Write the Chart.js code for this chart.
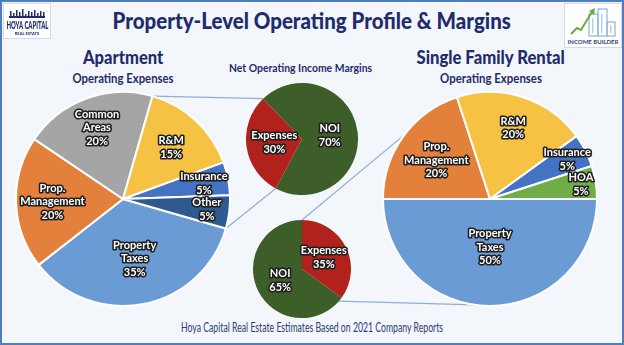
<!DOCTYPE html>
<html>
<head>
<meta charset="utf-8">
<script src="https://cdn.jsdelivr.net/npm/chart.js@4.4.1/dist/chart.umd.min.js"></script>
<style>
  html, body { margin: 0; padding: 0; }
  body {
    width: 624px; height: 345px; position: relative; overflow: hidden;
    background: #f3f6fb; font-family: Lato, "Open Sans", sans-serif;
  }
  #frame {
    position: absolute; left: 0; top: 0; width: 620px; height: 341px;
    border: 2px solid #4f7dc0; pointer-events: none; z-index: 5;
  }
  .txt {
    position: absolute; white-space: nowrap; color: #1f2c6c; font-weight: 700;
    transform-origin: center top;
  }
  canvas.pie { position: absolute; z-index: 2; }
  #lines { position: absolute; left: 0; top: 0; z-index: 1; }
  .logo { position: absolute; background: #fff; border: 1px solid #d5dbe6; z-index: 3; }
</style>
</head>
<body>
<div id="frame"></div>
<canvas id="lines" width="624" height="345"></canvas>

<div class="logo" style="left:3px;top:3px;width:46px;height:34px;">
  <canvas id="hoyaSky" width="46" height="12" style="position:absolute;left:0;top:3px"></canvas>
  <div class="txt fit" data-w="42" style="left:0;top:13px;width:46px;text-align:center;font-size:12px;font-weight:900;color:#1f2c6c;">HOYA CAPITAL</div>
  <div class="txt" style="left:0;top:27px;width:46px;text-align:center;font-size:4px;color:#1f2c6c;">REAL ESTATE</div>
</div>
<div class="logo" style="left:564px;top:3px;width:56px;height:43px;">
  <canvas id="ibIcon" width="56" height="32" style="position:absolute;left:0;top:2px"></canvas>
  <div class="txt" style="left:0;top:34px;width:56px;text-align:center;font-size:6px;color:#2c3f7a;">INCOME BUILDER</div>
</div>

<div class="txt fit" data-w="398" style="left:0;top:6px;width:624px;text-align:center;font-size:23px;font-weight:900;">Property-Level Operating Profile &amp; Margins</div>
<div class="txt fit" data-w="80" style="left:23px;top:45px;width:200px;text-align:center;font-size:19px;font-weight:900;">Apartment</div>
<div class="txt fit" data-w="101" style="left:23px;top:70px;width:200px;text-align:center;font-size:13px;">Operating Expenses</div>
<div class="txt fit" data-w="143" style="left:201px;top:60px;width:200px;text-align:center;font-size:12px;">Net Operating Income Margins</div>
<div class="txt fit" data-w="148" style="left:391px;top:45px;width:200px;text-align:center;font-size:19px;font-weight:900;">Single Family Rental</div>
<div class="txt fit" data-w="102" style="left:391px;top:70px;width:200px;text-align:center;font-size:13px;">Operating Expenses</div>
<div class="txt fit" data-w="262" style="left:0;top:318px;width:624px;text-align:center;font-size:14px;font-weight:400;color:#2b3b78;">Hoya Capital Real Estate Estimates Based on 2021 Company Reports</div>

<canvas class="pie" id="aptPie" width="216" height="216" style="left:15px;top:91px"></canvas>
<canvas class="pie" id="sfrPie" width="216" height="216" style="left:382px;top:91px"></canvas>
<canvas class="pie" id="aptMarginPie" width="112" height="112" style="left:246px;top:83px"></canvas>
<canvas class="pie" id="sfrMarginPie" width="98" height="98" style="left:253px;top:220px"></canvas>

<script>
// === Data ===
const aptCategories = ['Property\nTaxes', 'Prop.\nManagement', 'Common\nAreas', 'R&M', 'Insurance', 'Other'];
const aptShares = [35, 20, 20, 15, 5, 5];

const sfrCategories = ['Property\nTaxes', 'Prop.\nManagement', 'R&M', 'Insurance', 'HOA'];
const sfrShares = [50, 20, 20, 5, 5];

const marginCategories = ['NOI', 'Expenses'];
const aptMargins = [70, 30];
const sfrMargins = [65, 35];

// === Colours ===
const aptColors = ['#6a9bd4', '#e2803c', '#a5a5a5', '#f6c243', '#4472c4', '#2c5a91'];
const sfrColors = ['#6a9bd4', '#e2803c', '#f6c243', '#4472c4', '#70ad47'];
const marginColors = ['#3e5e29', '#b2221c'];

// Squeeze headings into the condensed widths of the original
document.querySelectorAll('.fit').forEach(function (el) {
    const inner = document.createElement('span');
    inner.textContent = el.textContent;
    el.textContent = '';
    el.appendChild(inner);
    inner.style.display = 'inline-block';
    const s = parseFloat(el.dataset.w) / inner.offsetWidth;
    inner.style.transform = 'scaleX(' + s.toFixed(3) + ')';
    // keep it centred once scaled
    inner.style.marginLeft = inner.style.marginRight = (-(inner.offsetWidth - el.dataset.w) / 2) + 'px';
});

// White labels with dark outline inside each slice
function sliceLabels(radii, fontSize, lineH) {
    return {
        id: 'sliceLabels',
        afterDatasetsDraw(chart) {
            const ctx = chart.ctx;
            const ds = chart.data.datasets[0];
            chart.getDatasetMeta(0).data.forEach(function (arc, i) {
                const mid = (arc.startAngle + arc.endAngle) / 2;
                const r = arc.outerRadius * radii[i];
                const x = arc.x + Math.cos(mid) * r;
                const y = arc.y + Math.sin(mid) * r;
                const lines = chart.data.labels[i].split('\n').concat(ds.data[i] + '%');
                ctx.save();
                ctx.font = 'bold ' + fontSize + 'px Lato, sans-serif';
                ctx.textAlign = 'center';
                ctx.textBaseline = 'middle';
                ctx.lineJoin = 'round';
                lines.forEach(function (t, k) {
                    const ty = y + (k - (lines.length - 1) / 2) * lineH;
                    ctx.strokeStyle = '#1e1e1e';
                    ctx.lineWidth = 3.2;
                    ctx.strokeText(t, x, ty);
                    ctx.fillStyle = '#fff';
                    ctx.fillText(t, x, ty);
                });
                ctx.restore();
            });
        }
    };
}

function makePie(id, labels, values, colors, rotation, border, radii, fontSize, lineH) {
    return new Chart(document.getElementById(id), {
        type: 'pie',
        data: {
            labels: labels,
            datasets: [{
                data: values,
                backgroundColor: colors,
                borderColor: '#ffffff',
                borderWidth: border
            }]
        },
        options: {
            responsive: false,
            animation: false,
            rotation: rotation,
            layout: { padding: 0 },
            plugins: { legend: { display: false }, tooltip: { enabled: false } }
        },
        plugins: [sliceLabels(radii, fontSize, lineH)]
    });
}

const aptChart = makePie('aptPie', aptCategories, aptShares, aptColors, 106, 2,
    [0.57, 0.66, 0.71, 0.66, 0.77, 0.79], 11, 13.5);
const sfrChart = makePie('sfrPie', sfrCategories, sfrShares, sfrColors, 90, 2,
    [0.45, 0.62, 0.70, 0.81, 0.86], 11, 13.5);
const aptMarginChart = makePie('aptMarginPie', marginCategories, aptMargins, marginColors, -44, 0,
    [0.5, 0.5], 11, 14);
const sfrMarginChart = makePie('sfrMarginPie', marginCategories, sfrMargins, marginColors, 126, 0,
    [0.5, 0.5], 11, 14);

// === Connector lines between the pies ===
function edgePoint(chart, canvasId, angle) {
    const c = document.getElementById(canvasId);
    const arc = chart.getDatasetMeta(0).data[0];
    return [c.offsetLeft + arc.x + Math.cos(angle) * arc.outerRadius,
            c.offsetTop + arc.y + Math.sin(angle) * arc.outerRadius];
}
const deg = Math.PI / 180;
const aptArcs = aptChart.getDatasetMeta(0).data;
const aptExp = aptMarginChart.getDatasetMeta(0).data[1];
const lctx = document.getElementById('lines').getContext('2d');
const connectors = [
    [edgePoint(aptChart, 'aptPie', aptArcs[2].endAngle), edgePoint(aptMarginChart, 'aptMarginPie', aptExp.endAngle)],
    [edgePoint(aptChart, 'aptPie', aptArcs[0].startAngle), edgePoint(aptMarginChart, 'aptMarginPie', aptExp.startAngle)],
    [edgePoint(sfrMarginChart, 'sfrMarginPie', -90 * deg), edgePoint(sfrChart, 'sfrPie', 217 * deg)],
    [edgePoint(sfrMarginChart, 'sfrMarginPie', 41 * deg), edgePoint(sfrChart, 'sfrPie', 98 * deg)]
];
lctx.strokeStyle = '#8eaed8';
lctx.lineWidth = 1.2;
connectors.forEach(function (seg) {
    lctx.beginPath();
    lctx.moveTo(seg[0][0], seg[0][1]);
    lctx.lineTo(seg[1][0], seg[1][1]);
    lctx.stroke();
});

// === Logos ===
const sky = document.getElementById('hoyaSky').getContext('2d');
sky.fillStyle = '#1f2c6c';
sky.fillRect(5, 9, 36, 2);
[[6, 5], [9, 3], [12, 6], [15, 4], [18, 7], [21, 2], [24, 5], [27, 4], [30, 6], [33, 3], [36, 5], [39, 4]].forEach(function (b) {
    sky.fillRect(b[0], 9 - b[1], 1.5, b[1]);
});

const ib = document.getElementById('ibIcon').getContext('2d');
ib.strokeStyle = '#8fb3dc';
ib.lineWidth = 1.2;
ib.strokeRect(24, 8, 9, 22);
ib.strokeRect(33, 3, 9, 27);
ib.strokeRect(42, 16, 8, 14);
ib.fillStyle = '#b9d0ec';
ib.fillRect(27, 12, 1.5, 15);
ib.fillRect(36, 8, 1.5, 19);
ib.fillRect(45, 19, 1.5, 8);
ib.strokeStyle = '#6aac3c';
ib.lineWidth = 2;
ib.beginPath();
ib.moveTo(6, 28); ib.lineTo(12, 22); ib.lineTo(16, 24); ib.lineTo(22, 14); ib.lineTo(27, 6);
ib.stroke();
ib.fillStyle = '#6aac3c';
ib.beginPath();
ib.moveTo(30, 2); ib.lineTo(24, 5); ib.lineTo(29, 9); ib.closePath(); ib.fill();
</script>
</body>
</html>
